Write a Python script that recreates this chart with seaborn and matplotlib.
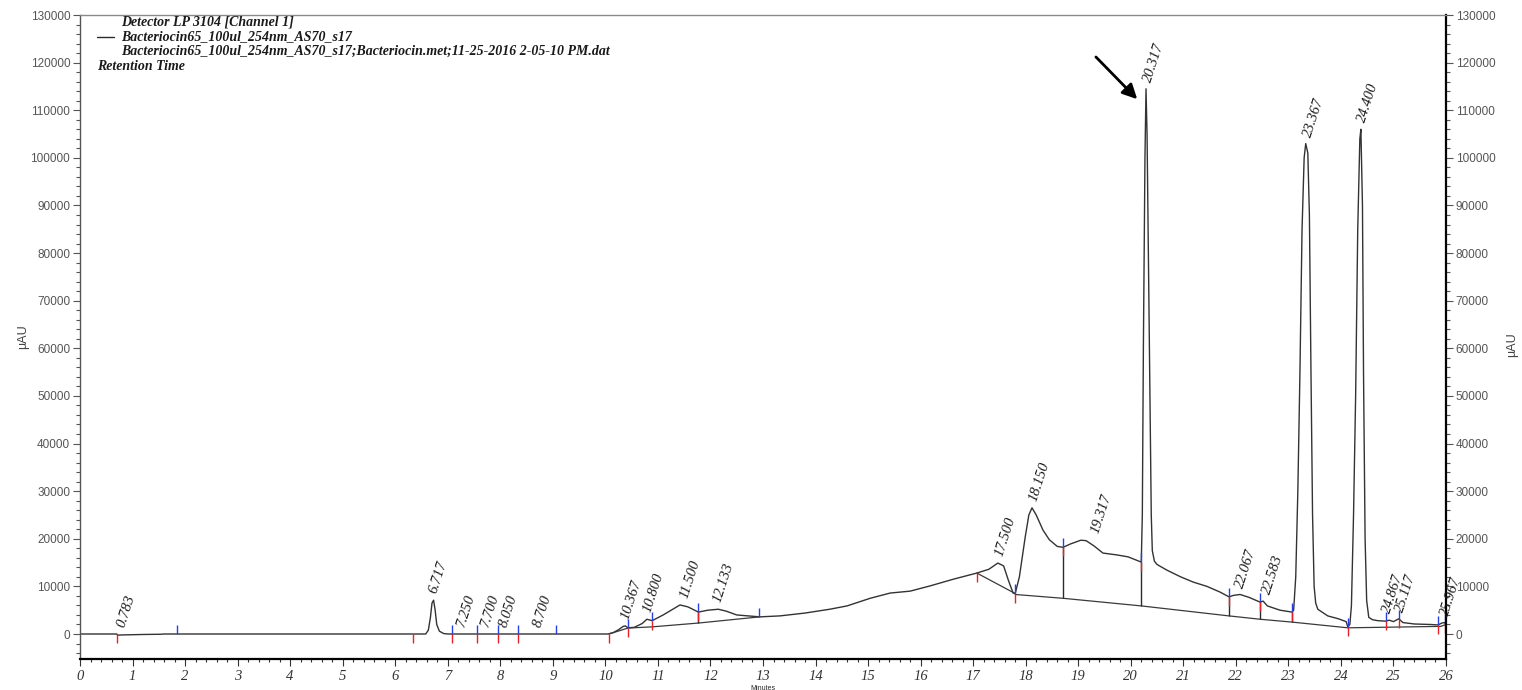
import matplotlib
matplotlib.use("Agg")
import matplotlib.pyplot as plt
from matplotlib.ticker import MultipleLocator
import pandas as pd
import seaborn as sns

# Detector trace (retention time in minutes, signal in µAU)
time_min = [0.00, 0.70, 0.72, 0.78, 1.20, 1.55, 1.60, 6.40, 6.58, 6.63, 6.67, 6.70, 6.73,
            6.76, 6.79, 6.84, 6.92, 7.00, 10.05, 10.15, 10.25, 10.34, 10.38, 10.43, 10.55,
            10.70, 10.79, 10.89, 11.10, 11.42, 11.57, 11.77, 11.95, 12.15, 12.30, 12.50,
            12.94, 13.32, 13.80, 14.27, 14.60, 15.04, 15.42, 15.80, 16.18, 16.62, 17.07,
            17.30, 17.47, 17.58, 17.67, 17.76, 17.80, 17.88, 17.99, 18.06, 18.12, 18.20,
            18.33, 18.45, 18.60, 18.71, 18.85, 19.05, 19.15, 19.30, 19.47, 19.74, 19.95,
            20.15, 20.20, 20.22, 20.24, 20.27, 20.29, 20.31, 20.34, 20.37, 20.39, 20.41,
            20.45, 20.50, 20.69, 20.95, 21.19, 21.45, 21.70, 21.87, 21.95, 22.08, 22.25,
            22.46, 22.52, 22.60, 22.84, 23.07, 23.10, 23.14, 23.18, 23.22, 23.26, 23.30,
            23.33, 23.37, 23.40, 23.43, 23.46, 23.49, 23.52, 23.56, 23.75, 23.95, 24.10,
            24.13, 24.17, 24.20, 24.24, 24.28, 24.32, 24.36, 24.38, 24.41, 24.43, 24.46,
            24.49, 24.53, 24.60, 24.70, 24.85, 24.92, 25.00, 25.10, 25.18, 25.40, 25.70,
            25.85, 25.92, 25.97, 26.00]
signal_uau = [0, 0, -250, -200, -100, -50, 0, 0, 0, 800, 3500, 6500, 7100,
              5000, 2000, 600, 100, 0, 0, 300, 900, 1600, 1700, 1300, 1400,
              2200, 3100, 2800, 4000, 6100, 5700, 4600, 5000, 5200, 4800, 4000,
              3600, 3800, 4400, 5200, 5900, 7500, 8600, 9000, 10100, 11500, 12800,
              13600, 14900, 14300, 11300, 8600, 8500, 12000, 20300, 25000, 26500, 25000,
              21800, 19800, 18400, 18200, 18900, 19700, 19600, 18500, 17000, 16600, 16200,
              15300, 15100, 25000, 60000, 100000, 114500, 105000, 75000, 45000, 25000, 17500,
              15300, 14600, 13400, 12000, 10900, 10000, 8800, 7800, 8100, 8300, 7700,
              6700, 6900, 5900, 5000, 4600, 5000, 12000, 30000, 55000, 85000, 100000,
              103000, 101000, 88000, 55000, 25000, 10000, 6500, 5200, 3800, 3200, 2600,
              1500, 2000, 6000, 25000, 50000, 85000, 104000, 106000, 90000, 55000, 20000,
              7000, 3500, 3000, 2800, 2700, 2900, 2600, 3200, 2400, 2100, 2000,
              1900, 2300, 2400, 2000]

# Integration baselines
base1_t = [10.07, 10.43, 10.89, 11.77, 12.94]
base1_y = [0, 1250, 1500, 2300, 3600]
base2_t = [17.07, 17.80]
base2_y = [12800, 8500]
base3_t = [17.80, 18.71, 20.20, 21.87, 22.46, 23.07, 24.13, 25.90, 26.00]
base3_y = [8300, 7500, 5900, 3800, 3100, 2500, 1300, 1600, 2000]

# Drop lines between neighbouring peaks
drop_t = [11.77, 18.71, 20.20, 21.87, 22.46, 23.07]
drop_top = [4600, 18200, 15100, 7800, 6700, 4600]
drop_bottom = [2300, 7500, 5900, 3800, 3100, 2500]

# Peak start (red) and end (blue) markers
start_t = [0.70, 6.34, 7.09, 7.55, 7.96, 8.33, 10.07, 10.43, 10.89, 11.77, 17.07, 17.80,
           18.71, 20.20, 21.87, 22.46, 23.07, 24.13, 24.85, 25.10, 25.85, 25.98]
start_y = [0, 0, 0, 0, 0, 0, 0, 1300, 2800, 4600, 12800, 8500,
           18200, 15100, 7800, 6700, 4600, 1500, 2700, 3200, 1900, 2200]
end_t = [1.85, 7.09, 7.55, 7.96, 8.33, 9.06, 10.43, 10.89, 11.77, 12.92, 17.80, 18.71,
         20.20, 21.87, 22.46, 23.07, 24.13, 24.85, 25.10, 25.85, 25.98]
end_y = [0, 0, 0, 0, 0, 0, 1300, 2800, 4600, 3600, 8500, 18200,
         15100, 7800, 6700, 4600, 1500, 2700, 3200, 1900, 2200]

# Peak retention-time labels
peak_rt = [0.783, 6.717, 7.250, 7.700, 8.050, 8.700, 10.367, 10.800, 11.500, 12.133,
           17.500, 18.150, 19.317, 20.317, 22.067, 22.583, 23.367, 24.400, 24.867,
           25.117, 25.967]
peak_height = [0, 7100, 0, 0, 0, 0, 1700, 3100, 6100, 5200,
               14900, 26500, 19700, 114500, 8300, 6900, 103000, 106000, 2900,
               3200, 2400]
peak_text = ["0.783", "6.717", "7.250", "7.700", "8.050", "8.700", "10.367", "10.800",
             "11.500", "12.133", "17.500", "18.150", "19.317", "20.317", "22.067",
             "22.583", "23.367", "24.400", "24.867", "25.117", "25.967"]

header_lines = ["Detector LP 3104 [Channel 1]",
                "Bacteriocin65_100ul_254nm_AS70_s17",
                "Bacteriocin65_100ul_254nm_AS70_s17;Bacteriocin.met;11-25-2016 2-05-10 PM.dat",
                "Retention Time"]

y_ticks = list(range(0, 130001, 10000))
x_ticks = list(range(0, 27))

sns.set_theme(style="white")
plt.rcParams["font.family"] = ["Liberation Sans", "DejaVu Sans"]

fig = plt.figure(figsize=(15.22, 6.90), dpi=100)
ax = fig.add_axes([80 / 1522, 31 / 690, 1366 / 1522, 644 / 690])

trace = pd.DataFrame({"t": time_min, "v": signal_uau})
sns.lineplot(data=trace, x="t", y="v", ax=ax, color="#333333", lw=1.0,
             estimator=None, sort=False)
for bt, by in [(base1_t, base1_y), (base2_t, base2_y), (base3_t, base3_y)]:
    sns.lineplot(x=bt, y=by, ax=ax, color="#3a3a3a", lw=0.9, estimator=None, sort=False)
ax.vlines(drop_t, drop_bottom, drop_top, color="#2b2b2b", lw=1.0)

mark_len = 1900
ax.vlines(start_t, [v - mark_len for v in start_y], start_y, color="#e8202a", lw=1.0)
ax.vlines(end_t, end_y, [v + mark_len for v in end_y], color="#2a3fe0", lw=1.0)

for rt, h, txt in zip(peak_rt, peak_height, peak_text):
    ax.annotate(txt, xy=(rt, h), xytext=(0, 5), textcoords="offset points",
                rotation=72, rotation_mode="anchor", ha="left", va="center",
                fontsize=10.5, fontstyle="italic", family="Liberation Serif",
                color="#1a1a1a")

ax.annotate("", xy=(20.16, 111900), xytext=(19.30, 121600),
            arrowprops=dict(arrowstyle="-|>", color="black", lw=2.0, mutation_scale=22))

# Header block
hdr_kw = dict(transform=fig.transFigure, fontsize=10, fontstyle="italic",
              fontweight="bold", family="Liberation Serif", color="#1a1a1a", va="center")
fig.text(121 / 1522, 1 - 22 / 690, header_lines[0], **hdr_kw)
fig.text(121 / 1522, 1 - 37 / 690, header_lines[1], **hdr_kw)
fig.text(121 / 1522, 1 - 51 / 690, header_lines[2], **hdr_kw)
fig.text(97 / 1522, 1 - 66 / 690, header_lines[3], **hdr_kw)
fig.add_artist(plt.Line2D([97 / 1522, 114 / 1522], [1 - 37 / 690, 1 - 37 / 690],
                          transform=fig.transFigure, color="#2b2b2b", lw=1.0))

ax.set_xlim(0, 26)
ax.set_ylim(-5250, 130000)
ax.set_xticks(x_ticks)
ax.set_yticks(y_ticks)
ax.xaxis.set_minor_locator(MultipleLocator(0.2))
ax.yaxis.set_minor_locator(MultipleLocator(2000))
ax.set_xticklabels([str(v) for v in x_ticks], fontstyle="italic",
                   family="Liberation Serif", fontsize=10.5, color="#333333")
ax.set_yticklabels([str(v) for v in y_ticks], fontsize=8.5, color="#555555")

ax.tick_params(axis="y", which="both", direction="out", left=True, right=True,
               labelleft=True, labelright=True, color="#555555", width=0.8)
ax.tick_params(axis="y", which="major", length=5, pad=2)
ax.tick_params(axis="y", which="minor", length=3)
ax.tick_params(axis="x", which="both", direction="out", bottom=True, color="#333333", width=0.8)
ax.tick_params(axis="x", which="major", length=5, pad=3)
ax.tick_params(axis="x", which="minor", length=2.5)

ax.set_xlabel("Minutes", fontsize=5, labelpad=1)
ax.set_ylabel("µAU", fontsize=9, color="#444444", labelpad=1)
fig.text(1512 / 1522, 1 - 345 / 690, "µAU", rotation=90, fontsize=9, color="#444444",
         ha="center", va="center")

ax.spines["top"].set_color("#8a8a8a")
ax.spines["top"].set_linewidth(1.0)
ax.spines["left"].set_color("#555555")
ax.spines["left"].set_linewidth(1.0)
ax.spines["right"].set_color("black")
ax.spines["right"].set_linewidth(1.6)
ax.spines["bottom"].set_color("black")
ax.spines["bottom"].set_linewidth(1.6)

fig.savefig("out.png", dpi=100, facecolor="white")
